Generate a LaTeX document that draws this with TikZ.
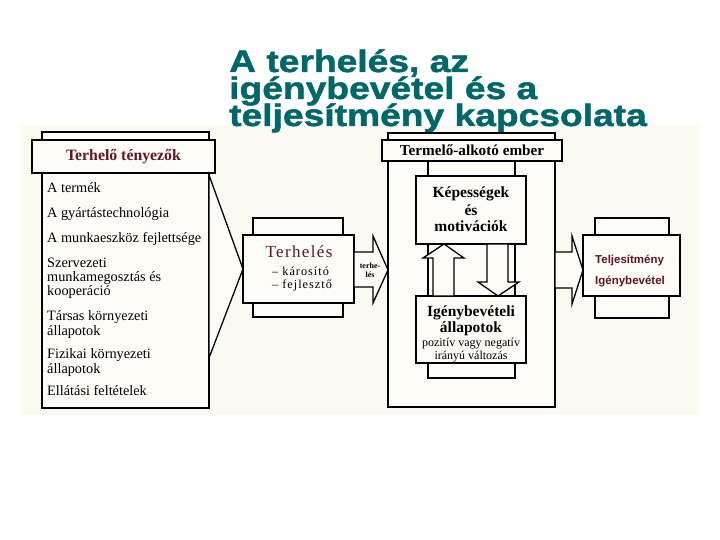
\documentclass[tikz,border=0pt]{standalone}
\usepackage{fontspec}
\setmainfont{Liberation Serif}
\newfontfamily\titlefont{Liberation Sans}[FakeStretch=1.2,FakeBold=1.6]
\newfontfamily\sansfont{Liberation Sans}
\newfontfamily\spacedserif{Liberation Serif}[LetterSpace=8]
\usetikzlibrary{calc}
\definecolor{titlecol}{RGB}{0,104,104}
\definecolor{maroon}{RGB}{100,20,40}
\definecolor{paper}{RGB}{250,249,242}
\definecolor{boxfill}{RGB}{253,252,247}
\tikzset{
  box/.style={draw, line width=1.3pt, fill=boxfill, inner sep=0pt, outer sep=0pt, anchor=north west},
  frame/.style={draw, line width=1.3pt, inner sep=0pt, outer sep=0pt, anchor=north west},
  barrow/.style={draw, line width=1.3pt, fill=boxfill, line join=miter},
  titletext/.style={anchor=base west, inner sep=0pt, text=titlecol, font=\titlefont\bfseries\fontsize{31}{31}\selectfont},
  listtext/.style={anchor=base west, inner sep=0pt, font=\fontsize{14.3}{16}\selectfont},
  bline/.style={anchor=base, inner sep=0pt, font=\bfseries\fontsize{15.5}{17}\selectfont},
  rline/.style={anchor=base, inner sep=0pt, font=\fontsize{12}{14}\selectfont},
}
\begin{document}
\begin{tikzpicture}[x=1pt,y=-1pt]
\useasboundingbox (0,0) rectangle (720,540);
\fill[paper] (20,125) rectangle (700,415);

% title
\node[titletext] (t1) at (229,72) {A terhelés, az};
\node[titletext] (t2) at (229,99) {igénybevétel és a};
\node[titletext] (t3) at (229,126) {teljesítmény kapcsolata};

% left: factors
\node[box, minimum width=167pt, minimum height=276pt] (lfactors) at (42,132) {};
\node[box, minimum width=183pt, minimum height=33pt, text=maroon, font=\bfseries\fontsize{15.8}{17}\selectfont] (lhead) at (32,140) {Terhelő tényezők};
\node[listtext] (f1) at (47,193) {A termék};
\node[listtext] (f2) at (47,218) {A gyártástechnológia};
\node[listtext] (f3) at (47,242) {A munkaeszköz fejlettsége};
\node[listtext] (f4) at (47,267) {Szervezeti};
\node[listtext] (f5) at (47,281) {munkamegosztás és};
\node[listtext] (f6) at (47,295) {kooperáció};
\node[listtext] (f7) at (47,320) {Társas környezeti};
\node[listtext] (f8) at (47,335) {állapotok};
\node[listtext] (f9) at (47,358) {Fizikai környezeti};
\node[listtext] (f10) at (47,373) {állapotok};
\node[listtext] (f11) at (47,395) {Ellátási feltételek};

% Terhelés box
\node[box, minimum width=90pt, minimum height=99pt] (terhback) at (253,218) {};
\node[box, minimum width=111pt, minimum height=68pt] (terh) at (243,235) {};
\node[anchor=base, inner sep=0pt, text=maroon, font=\spacedserif\fontsize{17}{18}\selectfont] (terhtitle) at (299,258) {Terhelés};
\node[anchor=base west, inner sep=0pt, font=\spacedserif\fontsize{12.3}{14}\selectfont] (karos) at (272,275) {– károsító};
\node[anchor=base west, inner sep=0pt, font=\spacedserif\fontsize{12.3}{14}\selectfont] (fejl) at (272,288) {– fejlesztő};

% funnel
\draw[barrow] ($(lfactors.north east)+(0,43)$) -- (terh.west) -- ($(lfactors.north east)+(0,226)$) -- cycle;

% center frame
\node[box, minimum width=167pt, minimum height=274pt] (ember) at (388,133) {};
\node[frame, minimum width=87pt, minimum height=217pt] (inner) at (428,161) {};
\node[box, minimum width=180pt, minimum height=21pt, font=\bfseries\fontsize{15.2}{17}\selectfont] (ehead) at (382,140) {Termelő-alkotó ember};

% terhelés arrow
\draw[barrow] ($(terh.east)+(0,-17)$) -- ++(19,0) -- ++(0,-16) -- (ember.west)
  -- ($(terh.east)+(19,34)$) -- ++(0,-16) -- ($(terh.east)+(0,18)$) -- cycle;
\node[inner sep=0pt, align=center, font=\bfseries\fontsize{8}{9}\selectfont] (arrlab) at (370,270) {terhe-\\lés};

% inner boxes
\node[box, minimum width=110pt, minimum height=68pt] (kep) at (416,176) {};
\node[bline] (k1) at (471,198) {Képességek};
\node[bline] (k2) at (471,215) {és};
\node[bline] (k3) at (471,232) {motivációk};

\node[box, minimum width=110pt, minimum height=67pt] (igeny) at (416,296) {};
\node[bline] (i1) at (471,316) {Igénybevételi};
\node[bline] (i2) at (471,332) {állapotok};
\node[rline] (i3) at (471,346) {pozitív vagy negatív};
\node[rline] (i4) at (471,359) {irányú változás};

% up arrow
\draw[barrow] ($(igeny.north west)+(17,0)$) -- ++(0,-38) -- ++(-10,0) -- ($(kep.south west)+(28,0)$)
  -- ++(20,14) -- ++(-10,0) -- ($(igeny.north west)+(38,0)$) -- cycle;
% down arrow
\draw[barrow] ($(kep.south west)+(71,0)$) -- ++(0,38) -- ++(-9,0) -- ($(igeny.north west)+(82,0)$)
  -- ++(21,-14) -- ++(-11,0) -- ($(kep.south west)+(92,0)$) -- cycle;

% output box
\node[box, minimum width=74pt, minimum height=100pt] (teljback) at (595,218) {};
\node[box, minimum width=97pt, minimum height=61pt] (telj) at (583,235) {};
\node[anchor=base west, inner sep=0pt, text=maroon, font=\sansfont\bfseries\fontsize{11.5}{13}\selectfont] (o1) at (595,263) {Teljesítmény};
\node[anchor=base west, inner sep=0pt, text=maroon, font=\sansfont\bfseries\fontsize{11.5}{13}\selectfont] (o2) at (595,284) {Igénybevétel};

% right arrow
\draw[barrow] ($(ember.east)+(0,-18)$) -- ++(17,0) -- ++(0,-16) -- (telj.west |- ember.east)
  -- ($(ember.east)+(17,34)$) -- ++(0,-16) -- ($(ember.east)+(0,18)$) -- cycle;
\end{tikzpicture}
\end{document}
